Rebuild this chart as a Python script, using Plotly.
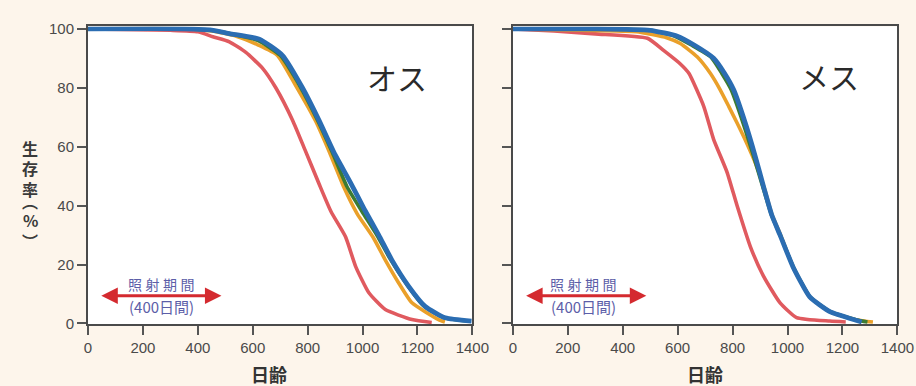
import plotly.graph_objects as go

# ---- data ----
# Male (オス): day at which each survival level (%) is reached
m_red_x = [0, 300, 400, 455, 515, 575, 636, 684, 745, 790, 841, 885, 938, 975, 1023, 1083, 1180, 1252]
m_red_y = [100, 99.5, 99, 97.3, 95.6, 92, 86.6, 80, 69, 59, 47.5, 38, 29.4, 19.3, 10.4, 4.7, 1.3, 0.3]
m_org_x = [0, 350, 450, 540, 620, 690, 755, 829, 880, 932, 980, 1040, 1083, 1130, 1180, 1277, 1300]
m_org_y = [100, 100, 99.3, 97.5, 94.5, 91, 81, 68.7, 58, 46.2, 37.3, 29, 21.5, 14, 7, 1.3, 0.5]
m_grn_x = [0, 350, 450, 520, 620, 700, 775, 836, 890, 943, 998, 1052, 1100, 1163, 1222, 1295, 1380]
m_grn_y = [100, 100, 99.5, 98.3, 96, 91, 80, 69, 58, 46.5, 38, 30, 22, 13, 6, 2, 0.8]
m_blu_x = [0, 350, 450, 515, 624, 708, 781, 841, 896, 955, 1008, 1059, 1107, 1168, 1228, 1301, 1397]
m_blu_y = [100, 100, 99.6, 98.4, 96.5, 91, 80, 69, 58, 48, 38.5, 30, 21.5, 12.6, 5.8, 1.9, 0.8]

# Female (メス)
f_red_x = [0, 150, 300, 490, 550, 611, 641, 695, 731, 780, 816, 865, 913, 973, 1033, 1154, 1212]
f_red_y = [100, 99.3, 98.3, 96.8, 92.6, 88, 84.9, 73.7, 62.5, 51.3, 40.1, 26, 16, 7, 2, 0.8, 0.5]
f_org_x = [0, 250, 450, 560, 610, 671, 719, 755, 786, 816, 850, 885, 915, 943, 975, 1021, 1081, 1154, 1252, 1311]
f_org_y = [100, 99.5, 99, 97, 95, 90.5, 84.9, 79.3, 73.7, 68.1, 61.5, 54, 46, 37, 30, 19, 9, 4, 1.2, 0.5]
f_grn_x = [0, 300, 500, 590, 650, 720, 760, 795, 838, 876, 912, 942, 973, 1022, 1082, 1155, 1252, 1291]
f_grn_y = [100, 100, 99.5, 97.5, 94.5, 90.5, 85, 79.3, 68.1, 56.9, 45.7, 36.7, 30, 19, 9, 4, 1.2, 0.5]
f_blu_x = [0, 300, 500, 599, 660, 731, 770, 804, 846, 882, 915, 943, 973, 1021, 1081, 1154, 1252, 1270]
f_blu_y = [100, 100, 99.5, 97.5, 94.5, 90, 85, 79.3, 68.1, 56.9, 45.7, 36.7, 30, 19, 9, 4, 1, 0.5]

x_ticks = [0, 200, 400, 600, 800, 1000, 1200, 1400]
y_ticks = [0, 20, 40, 60, 80, 100]
period = [43, 486]  # irradiation period arrow span (days)
y_title_chars = ["生", "存", "率", "︵", "%", "︶"]

RED = "#e05a5f"
ORG = "#eaa02a"
GRN = "#3c7b33"
BLU = "#2b6db2"
BG = "#fdf5eb"

fig = go.Figure()

def add(x, y, color, width, xa, ya):
    fig.add_trace(go.Scatter(x=x, y=y, mode="lines", xaxis=xa, yaxis=ya,
                             line=dict(color=color, width=width, shape="spline", smoothing=0.5),
                             showlegend=False, hoverinfo="skip"))

add(m_red_x, m_red_y, RED, 3.6, "x", "y")
add(m_org_x, m_org_y, ORG, 3.6, "x", "y")
add(m_grn_x, m_grn_y, GRN, 3.6, "x", "y")
add(m_blu_x, m_blu_y, BLU, 4.8, "x", "y")
add(f_red_x, f_red_y, RED, 3.6, "x2", "y2")
add(f_org_x, f_org_y, ORG, 3.6, "x2", "y2")
add(f_grn_x, f_grn_y, GRN, 3.6, "x2", "y2")
add(f_blu_x, f_blu_y, BLU, 4.8, "x2", "y2")

tickfont = dict(family="Liberation Sans, Arial", size=15, color="#4a4a4a")
axcommon = dict(showline=True, linecolor="#4a4a4a", linewidth=2, mirror=True,
                ticks="outside", ticklen=9, tickwidth=1.5, tickcolor="#555",
                showgrid=False, zeroline=False, tickfont=tickfont)

YDOM = [0.1466, 0.9451]
fig.update_layout(
    width=916, height=386,
    margin=dict(l=0, r=0, t=0, b=0),
    paper_bgcolor=BG, plot_bgcolor="white",
    xaxis=dict(domain=[0.0939, 0.5233], range=[0, 1400], tickvals=x_ticks, anchor="y", **axcommon),
    yaxis=dict(domain=YDOM, range=[-0.3, 100.8], tickvals=y_ticks, anchor="x", **axcommon),
    xaxis2=dict(domain=[0.5685, 0.9982], range=[0, 1400], tickvals=x_ticks, anchor="y2", **axcommon),
    yaxis2=dict(domain=YDOM, range=[-0.3, 100.8], tickvals=y_ticks, anchor="x2",
                showticklabels=False, **axcommon),
)

jp = "Noto Sans CJK JP"
TXT = "#5c5ea8"
panels = [("x", "y", "オス", 1124, 83.5, 267, 660), ("x2", "y2", "メス", 1150, 84, 258, 700)]
for xr, yr, label, lx, ly, tx, axlab in panels:
    fig.add_annotation(x=lx, y=ly, xref=xr, yref=yr, text=label, showarrow=False,
                       font=dict(family=jp, size=30, color="#2a2a2a"))
    fig.add_annotation(x=period[1], y=9.4, ax=period[0], ay=9.4, xref=xr, yref=yr,
                       axref=xr, ayref=yr, text="", showarrow=True, arrowside="end+start",
                       arrowhead=2, arrowsize=1.1, arrowwidth=3, arrowcolor="#d42a2f")
    fig.add_annotation(x=tx, y=13.3, xref=xr, yref=yr, text="照\u2005射\u2005期\u2005間",
                       showarrow=False, font=dict(family=jp, size=14, color=TXT))
    fig.add_annotation(x=tx, y=5.6, xref=xr, yref=yr, text="(400日間)", showarrow=False,
                       font=dict(family=jp, size=15, color=TXT))
    fig.add_annotation(x=axlab, y=0.014, xref=xr, yref="paper", text="日齢", showarrow=False,
                       xanchor="center", yanchor="middle",
                       font=dict(family=jp, size=18, color="#333", weight="bold"))

# vertical y-axis title, one character per line
y_title_pos = [0.618, 0.565, 0.509, 0.478, 0.427, 0.370]
for ch, yp in zip(y_title_chars, y_title_pos):
    fig.add_annotation(x=0.0294, y=yp, xref="paper", yref="paper", showarrow=False,
                       xanchor="center", yanchor="middle", text=ch,
                       font=dict(family=jp, size=16, color="#3a3a3a", weight="bold"))

fig.write_html("out.html")
